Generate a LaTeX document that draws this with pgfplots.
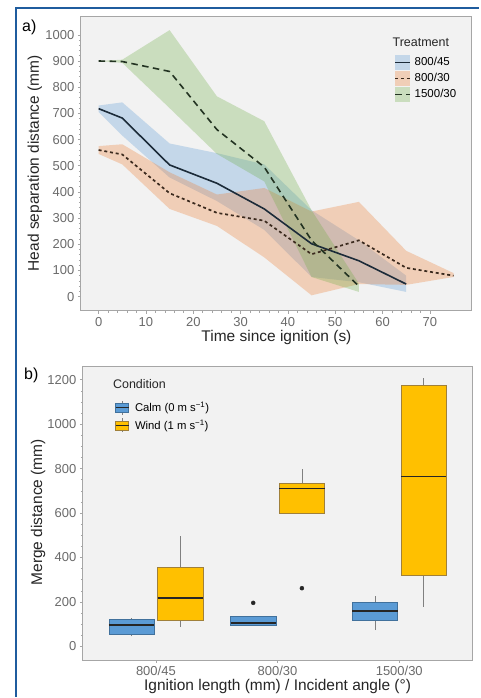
\documentclass[border=0pt]{standalone}
\usepackage{fontspec}
\setmainfont{Liberation Sans}
\usepackage{pgfplots}
\pgfplotsset{compat=1.18}

\definecolor{panelbg}{HTML}{F2F2F2}
\definecolor{axisc}{HTML}{A6A6A6}
\definecolor{tickc}{HTML}{6B6B6B}
\definecolor{labc}{HTML}{262626}
\definecolor{framec}{HTML}{1F5C9E}
\definecolor{bblue}{HTML}{5B9BD5}
\definecolor{borange}{HTML}{ED7D31}
\definecolor{bgreen}{HTML}{70AD47}
\definecolor{l45}{HTML}{1C2B39}
\definecolor{l30}{HTML}{3B2A1E}
\definecolor{l15}{HTML}{233322}
\definecolor{calm}{HTML}{5B9BD5}
\definecolor{calmd}{HTML}{41719C}
\definecolor{wind}{HTML}{FFC000}
\definecolor{windd}{HTML}{A0803A}

\pgfplotsset{
  panel/.style={
    scale only axis,
    axis background/.style={fill=panelbg},
    axis line style={draw=axisc, line width=0.8pt},
    tick style={draw=axisc, line width=0.6pt},
    tick align=outside, major tick length=3pt, minor tick length=2pt,
    xtick pos=bottom, ytick pos=left,
    tick label style={font=\fontsize{13}{15}\selectfont, text=tickc},
    label style={font=\fontsize{15.5}{18}\selectfont, text=labc},
    /pgf/number format/assume math mode=true,
    /pgf/number format/1000 sep={},
  },
  band/.style={draw=none, fill opacity=0.3, forget plot},
  calmbox/.style={fill=calm, draw=calmd, line width=0.6pt, forget plot},
  windbox/.style={fill=wind, draw=windd, line width=0.6pt, forget plot},
  med/.style={draw=black!85, line width=1.8pt, forget plot},
  whisk/.style={draw=gray, line width=0.6pt, forget plot},
}

\begin{document}
\begin{tikzpicture}
\fill[white] (0pt,0pt) rectangle (480pt,698pt);
\draw[framec, line width=2.2pt] (16pt,0pt) -- (16pt,690pt) -- (480pt,690pt);
\node[anchor=west, inner sep=0pt, font=\fontsize{16}{18}\selectfont] at (22pt,671pt) {a)};
\node[anchor=west, inner sep=0pt, font=\fontsize{16}{18}\selectfont] at (24pt,322pt) {b)};

% ---------- panel a ----------
\begin{axis}[panel, at={(81pt,387pt)}, anchor=south west,
  width=391pt, height=295pt,
  xmin=-3.75, xmax=78.75, ymin=-53, ymax=1072,
  xtick={0,10,...,70}, ytick={0,100,...,1000},
  minor x tick num=4, minor y tick num=4,
  xlabel={Time since ignition (s)},
  ylabel={Head separation distance (mm)},
  xlabel style={at={(axis description cs:0.501,-0.0915)}, anchor=center},
  ylabel style={at={(axis description cs:-0.118,0.5)}, anchor=center},
  legend style={at={(axis description cs:0.803,0.868)}, anchor=north west,
    draw=none, fill=none, inner sep=0pt, row sep=1pt,
    font=\fontsize{11.5}{13}\selectfont,
    /tikz/every odd column/.append style={column sep=1.5pt}},
  legend cell align=left]

% bands: upper edge forward, lower edge backward
\addplot[band, fill=bblue] coordinates {
  (0,730)(5,742)(15,585)(25,548)(35,505)(45,330)(55,215)(65,80)
  (65,18)(55,55)(45,75)(35,255)(25,365)(15,455)(5,615)(0,705)} -- cycle;
\addplot[band, fill=borange] coordinates {
  (0,575)(5,582)(15,475)(25,390)(35,415)(45,325)(55,362)(65,175)(75,90)
  (75,75)(65,45)(55,48)(45,5)(35,150)(25,270)(15,335)(5,505)(0,545)} -- cycle;
\addplot[band, fill=bgreen] coordinates {
  (0,900)(5,905)(15,1018)(25,765)(35,670)(45,330)(55,50)
  (55,18)(45,75)(35,440)(25,545)(15,720)(5,893)(0,900)} -- cycle;

\addplot[l45, line width=1.6pt,
  legend image code/.code={\path[draw=none, fill=bblue, fill opacity=0.3] (0pt,-7.5pt) rectangle (15pt,7.5pt);
    \draw (0pt,0pt) -- (15pt,0pt);}]
  coordinates {(0,718)(5,682)(15,503)(25,433)(35,335)(45,202)(55,137)(65,48)};
\addlegendentry{800/45}
\addplot[l30, line width=1.7pt, dash pattern=on 3pt off 2.8pt,
  legend image code/.code={\path[draw=none, fill=borange, fill opacity=0.3] (0pt,-7.5pt) rectangle (15pt,7.5pt);
    \draw (0pt,0pt) -- (15pt,0pt);}]
  coordinates {(0,560)(5,543)(15,395)(25,320)(35,290)(45,162)(55,215)(65,110)(75,80)};
\addlegendentry{800/30}
\addplot[l15, line width=1.6pt, dash pattern=on 6.5pt off 4.5pt,
  legend image code/.code={\path[draw=none, fill=bgreen, fill opacity=0.3] (0pt,-7.5pt) rectangle (15pt,7.5pt);
    \draw (0pt,0pt) -- (15pt,0pt);}]
  coordinates {(0,900)(5,898)(15,860)(25,638)(35,495)(45,215)(55,40)};
\addlegendentry{1500/30}

\node[anchor=west, inner sep=0pt, font=\fontsize{12.5}{14}\selectfont, text=labc]
  at (axis description cs:0.798,0.912) {Treatment};
\end{axis}

% ---------- panel b ----------
\begin{axis}[panel, at={(83pt,37pt)}, anchor=south west,
  width=390pt, height=294pt,
  xmin=0.4, xmax=3.6, ymin=-61, ymax=1260,
  xtick={1,2,3}, xticklabels={800/45,800/30,1500/30},
  ytick={0,200,...,1200}, minor y tick num=3,
  xlabel={Ignition length (mm) / Incident angle (°)},
  ylabel={Merge distance (mm)},
  xlabel style={at={(axis description cs:0.5,-0.092)}, anchor=center},
  ylabel style={at={(axis description cs:-0.115,0.503)}, anchor=center},
  legend style={at={(axis description cs:0.082,0.886)}, anchor=north west,
    draw=none, fill=none, inner sep=0pt, row sep=3pt,
    font=\fontsize{11.3}{13}\selectfont,
    /tikz/every odd column/.append style={column sep=4pt}},
  legend cell align=left]

% whiskers (centre, lower whisker -> lower quartile, upper quartile -> upper whisker)
\addplot[whisk] coordinates {(0.8,45)(0.8,55)};   \addplot[whisk] coordinates {(0.8,123)(0.8,130)};
\addplot[whisk] coordinates {(1.2,88)(1.2,118)};  \addplot[whisk] coordinates {(1.2,354)(1.2,498)};
\addplot[whisk] coordinates {(2.2,733)(2.2,798)};
\addplot[whisk] coordinates {(2.8,73)(2.8,118)};  \addplot[whisk] coordinates {(2.8,198)(2.8,228)};
\addplot[whisk] coordinates {(3.2,178)(3.2,318)}; \addplot[whisk] coordinates {(3.2,1176)(3.2,1206)};

% boxes: lower quartile to upper quartile, width 0.373
\addplot[calmbox] coordinates {(0.6135,55)(0.9865,55)(0.9865,123)(0.6135,123)} -- cycle;
\addplot[windbox] coordinates {(1.0135,118)(1.3865,118)(1.3865,354)(1.0135,354)} -- cycle;
\addplot[calmbox] coordinates {(1.6135,97)(1.9865,97)(1.9865,135)(1.6135,135)} -- cycle;
\addplot[windbox] coordinates {(2.0135,598)(2.3865,598)(2.3865,733)(2.0135,733)} -- cycle;
\addplot[calmbox] coordinates {(2.6135,118)(2.9865,118)(2.9865,198)(2.6135,198)} -- cycle;
\addplot[windbox] coordinates {(3.0135,318)(3.3865,318)(3.3865,1176)(3.0135,1176)} -- cycle;

% medians
\addplot[med] coordinates {(0.6135,96)(0.9865,96)};
\addplot[med] coordinates {(1.0135,219)(1.3865,219)};
\addplot[med] coordinates {(1.6135,105)(1.9865,105)};
\addplot[med] coordinates {(2.0135,711)(2.3865,711)};
\addplot[med] coordinates {(2.6135,160)(2.9865,160)};
\addplot[med] coordinates {(3.0135,765)(3.3865,765)};

% outliers
\addplot[only marks, mark=*, mark size=2pt, black!85, forget plot]
  coordinates {(1.8,196)(2.2,262)};

\addlegendimage{legend image code/.code={
  \draw[gray, line width=0.6pt] (6.5pt,-7pt) -- (6.5pt,7pt);
  \filldraw[fill=calm, draw=calmd, line width=0.6pt] (0pt,-4.5pt) rectangle (13pt,4.5pt);
  \draw[black!85, line width=1.1pt] (0pt,0pt) -- (13pt,0pt);}}
\addlegendentry{Calm (0 m s\textsuperscript{−1})}
\addlegendimage{legend image code/.code={
  \draw[gray, line width=0.6pt] (6.5pt,-7pt) -- (6.5pt,7pt);
  \filldraw[fill=wind, draw=windd, line width=0.6pt] (0pt,-4.5pt) rectangle (13pt,4.5pt);
  \draw[black!85, line width=1.1pt] (0pt,0pt) -- (13pt,0pt);}}
\addlegendentry{Wind (1 m s\textsuperscript{−1})}

\node[anchor=west, inner sep=0pt, font=\fontsize{12.5}{14}\selectfont, text=labc]
  at (axis description cs:0.077,0.939) {Condition};
\end{axis}
\end{tikzpicture}
\end{document}
